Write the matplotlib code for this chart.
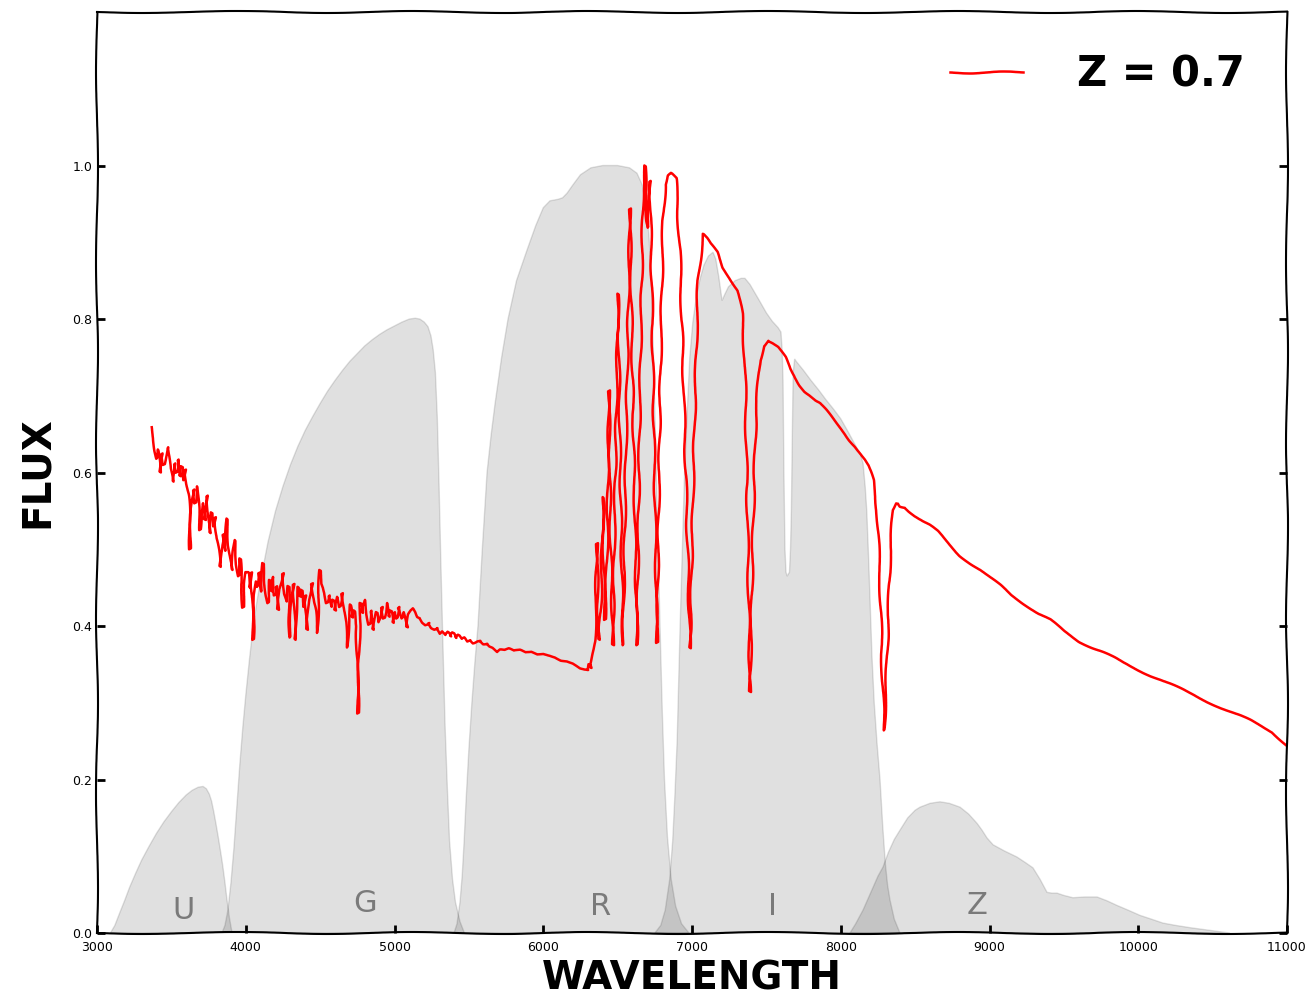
import numpy as np
import matplotlib.pyplot as plt

# SDSS filter curves (wavelength in Angstrom, scaled response)
u_wave = [3090, 3120, 3150, 3185, 3220, 3260, 3300, 3350, 3400, 3450, 3500, 3550, 3600, 3640,
          3680, 3713, 3735, 3755, 3770, 3785, 3800, 3815, 3830, 3845, 3860, 3874, 3890, 3908]
u_resp = [0.0, 0.01, 0.025, 0.042, 0.06, 0.078, 0.095, 0.113, 0.13, 0.145, 0.158, 0.17, 0.18, 0.186,
          0.19, 0.191, 0.188, 0.181, 0.172, 0.158, 0.142, 0.125, 0.107, 0.088, 0.066, 0.043, 0.02, 0.0]

g_wave = [3840, 3860, 3880, 3900, 3920, 3940, 3960, 3980, 4000, 4025, 4050, 4075, 4100, 4150,
          4200, 4250, 4300, 4350, 4400, 4450, 4500, 4550, 4600, 4650, 4700, 4750, 4800, 4850,
          4900, 4950, 5000, 5050, 5100, 5140, 5170, 5200, 5225, 5245, 5260, 5275, 5288, 5300,
          5312, 5325, 5340, 5355, 5370, 5390, 5410, 5440, 5470]
g_resp = [0.0, 0.01, 0.03, 0.065, 0.11, 0.165, 0.22, 0.268, 0.31, 0.357, 0.40, 0.432, 0.46, 0.51,
          0.55, 0.582, 0.61, 0.634, 0.655, 0.673, 0.69, 0.706, 0.72, 0.733, 0.745, 0.755, 0.765, 0.773,
          0.78, 0.786, 0.791, 0.796, 0.80, 0.801, 0.80, 0.796, 0.79, 0.778, 0.76, 0.73, 0.67, 0.58,
          0.48, 0.38, 0.27, 0.19, 0.12, 0.07, 0.04, 0.015, 0.0]

r_wave = [5400, 5420, 5440, 5455, 5468, 5481, 5500, 5520, 5540, 5561, 5590, 5622, 5650, 5676,
          5720, 5763, 5820, 5891, 5950, 6000, 6045, 6100, 6130, 6160, 6200, 6250, 6320, 6400,
          6500, 6580, 6630, 6665, 6690, 6710, 6725, 6740, 6755, 6770, 6785, 6800, 6815, 6835,
          6860, 6890, 6930, 6980]
r_resp = [0.0, 0.012, 0.04, 0.075, 0.12, 0.173, 0.24, 0.3, 0.352, 0.4, 0.5, 0.6, 0.65, 0.69,
          0.75, 0.8, 0.85, 0.89, 0.922, 0.945, 0.954, 0.956, 0.958, 0.964, 0.975, 0.988, 0.997, 1.0,
          1.0, 0.997, 0.99, 0.975, 0.95, 0.91, 0.86, 0.76, 0.64, 0.52, 0.4, 0.29, 0.2, 0.125,
          0.07, 0.035, 0.012, 0.0]

i_wave = [6750, 6790, 6820, 6850, 6870, 6885, 6900, 6920, 6935, 6950, 6968, 6985, 7005, 7030,
          7055, 7080, 7110, 7141, 7160, 7180, 7202, 7220, 7245, 7290, 7330, 7356, 7390, 7450,
          7500, 7540, 7578, 7598, 7606, 7612, 7618, 7625, 7632, 7640, 7648, 7655, 7662, 7668,
          7675, 7680, 7690, 7700, 7750, 7800, 7850, 7900, 7950, 8000, 8050, 8100, 8130, 8150,
          8165, 8175, 8187, 8197, 8210, 8225, 8244, 8264, 8282, 8300, 8315, 8331, 8360, 8398]
i_resp = [0.0, 0.01, 0.03, 0.07, 0.12, 0.18, 0.25, 0.4, 0.5, 0.6, 0.68, 0.75, 0.795, 0.83,
          0.853, 0.87, 0.882, 0.887, 0.878, 0.855, 0.824, 0.832, 0.842, 0.85, 0.853, 0.853, 0.845, 0.825,
          0.808, 0.797, 0.789, 0.783, 0.76, 0.72, 0.6, 0.5, 0.47, 0.465, 0.468, 0.47, 0.5, 0.55,
          0.66, 0.73, 0.748, 0.745, 0.733, 0.72, 0.708, 0.695, 0.683, 0.67, 0.653, 0.635, 0.625, 0.612,
          0.58, 0.55, 0.49, 0.434, 0.36, 0.3, 0.247, 0.2, 0.14, 0.09, 0.062, 0.043, 0.018, 0.0]

z_wave = [8062, 8100, 8150, 8200, 8250, 8284, 8320, 8360, 8398, 8450, 8500, 8533, 8600, 8667,
          8730, 8802, 8860, 8916, 8950, 8983, 9024, 9100, 9185, 9240, 9292, 9340, 9387, 9420,
          9454, 9500, 9561, 9640, 9723, 9790, 9857, 9930, 10012, 10090, 10166, 10250, 10348,
          10462, 10617]
z_resp = [0.0, 0.012, 0.03, 0.052, 0.074, 0.086, 0.105, 0.122, 0.134, 0.15, 0.16, 0.164, 0.169, 0.171,
          0.169, 0.164, 0.155, 0.143, 0.134, 0.124, 0.115, 0.107, 0.099, 0.092, 0.085, 0.07, 0.053, 0.052,
          0.052, 0.049, 0.046, 0.047, 0.047, 0.042, 0.036, 0.03, 0.023, 0.018, 0.013, 0.01, 0.007,
          0.004, 0.0]

filter_names = ['U', 'G', 'R', 'I', 'Z']
label_wave = [3578, 4802, 6388, 7538, 8916]
label_flux = [0.03, 0.039, 0.034, 0.034, 0.036]

# galaxy spectrum redshifted to z = 0.7
spec_wave = [
    3368, 3380, 3392, 3401, 3410, 3424, 3436, 3448, 3462, 3477, 3490, 3502, 3511, 3522, 3535,
    3545, 3558, 3570, 3580, 3592, 3605, 3618, 3625, 3632, 3639, 3650, 3660, 3672, 3682, 3692,
    3700, 3712, 3725, 3740, 3750, 3760, 3770, 3782, 3793, 3805, 3816, 3827, 3838, 3850, 3862,
    3874, 3886, 3898, 3908, 3918, 3928, 3940, 3952, 3962, 3972, 3982, 3992, 4004, 4015, 4026,
    4036, 4049, 4060, 4070, 4076, 4090, 4104, 4116, 4128, 4140, 4150, 4162, 4172, 4183, 4195,
    4206, 4217, 4228, 4240, 4250, 4262, 4275, 4287, 4297, 4310, 4322, 4331, 4340, 4351, 4364,
    4375, 4388, 4400, 4412, 4425, 4436, 4445, 4458, 4468, 4479, 4490, 4499, 4510, 4522, 4533,
    4545, 4560, 4575, 4587, 4600, 4615, 4632, 4647, 4660, 4670, 4681, 4692, 4703, 4714, 4730,
    4745, 4755, 4764, 4772, 4782, 4790, 4802, 4815, 4830, 4842, 4855, 4868, 4880, 4892, 4903,
    4915, 4928, 4940, 4950, 4962, 4975, 4990, 5002, 5015, 5026, 5037, 5050, 5062, 5074, 5084,
    5095, 5110, 5124, 5140, 5155, 5171, 5190, 5210, 5230, 5250, 5270, 5286, 5305, 5320, 5340,
    5360, 5375, 5393, 5410, 5430, 5450, 5470, 5490, 5508, 5530, 5555, 5575, 5600, 5622, 5640,
    5660, 5689, 5710, 5740, 5770, 5800, 5844, 5880, 5920, 5960, 6000, 6045, 6080, 6120, 6160,
    6200, 6247, 6275, 6301, 6310, 6318, 6328, 6348, 6361, 6368, 6375, 6388, 6402, 6408, 6415,
    6429, 6442, 6452, 6462, 6469, 6482, 6503, 6510, 6516, 6536, 6556, 6583, 6603, 6630, 6650,
    6671, 6684, 6697, 6704, 6718, 6731, 6765, 6785, 6805, 6820, 6839, 6860, 6892, 6919, 6946,
    6987, 7013, 7040, 7074, 7100, 7121, 7168, 7208, 7255, 7309, 7336, 7356, 7372, 7390, 7410,
    7430, 7457, 7480, 7511, 7545, 7578, 7625, 7659, 7700, 7726, 7760, 7793, 7830, 7861, 7900,
    7928, 7960, 7995, 8030, 8062, 8100, 8129, 8160, 8183, 8200, 8217, 8244, 8264, 8277, 8291,
    8300, 8311, 8331, 8351, 8370, 8385, 8400, 8432, 8460, 8499, 8550, 8600, 8650, 8700, 8750,
    8802, 8870, 8936, 9000, 9071, 9150, 9250, 9330, 9407, 9500, 9600, 9743, 9900, 10079, 10250,
    10415, 10600, 10751, 10900, 11000]
spec_flux = [
    0.659, 0.645, 0.628, 0.618, 0.630, 0.600, 0.625, 0.610, 0.622, 0.633, 0.605, 0.596, 0.588, 0.612, 0.600,
    0.617, 0.595, 0.608, 0.590, 0.604, 0.585, 0.570, 0.500, 0.545, 0.564, 0.578, 0.560, 0.582, 0.555, 0.525,
    0.548, 0.560, 0.538, 0.570, 0.545, 0.521, 0.548, 0.530, 0.542, 0.515, 0.500, 0.477, 0.505, 0.520, 0.498,
    0.540, 0.505, 0.490, 0.473, 0.498, 0.512, 0.480, 0.465, 0.488, 0.450, 0.424, 0.455, 0.470, 0.469, 0.450,
    0.470, 0.382, 0.440, 0.458, 0.451, 0.470, 0.445, 0.482, 0.455, 0.440, 0.430, 0.460, 0.445, 0.464, 0.440,
    0.452, 0.421, 0.448, 0.458, 0.469, 0.442, 0.432, 0.452, 0.385, 0.440, 0.455, 0.382, 0.430, 0.451, 0.438,
    0.447, 0.425, 0.440, 0.395, 0.435, 0.448, 0.456, 0.430, 0.420, 0.391, 0.440, 0.473, 0.455, 0.450, 0.443,
    0.430, 0.440, 0.425, 0.434, 0.420, 0.438, 0.425, 0.443, 0.420, 0.405, 0.372, 0.410, 0.428, 0.411, 0.420,
    0.400, 0.286, 0.390, 0.430, 0.417, 0.425, 0.434, 0.415, 0.402, 0.420, 0.395, 0.405, 0.418, 0.405, 0.411,
    0.425, 0.410, 0.418, 0.430, 0.412, 0.420, 0.404, 0.418, 0.410, 0.425, 0.421, 0.410, 0.418, 0.405, 0.398,
    0.415, 0.420, 0.423, 0.418, 0.412, 0.411, 0.405, 0.402, 0.405, 0.398, 0.396, 0.398, 0.390, 0.393, 0.388,
    0.392, 0.386, 0.391, 0.384, 0.388, 0.383, 0.385, 0.380, 0.382, 0.378, 0.381, 0.382, 0.377, 0.378, 0.374,
    0.372, 0.366, 0.369, 0.368, 0.370, 0.367, 0.368, 0.365, 0.366, 0.363, 0.364, 0.362, 0.360, 0.356, 0.355,
    0.352, 0.345, 0.343, 0.342, 0.350, 0.345, 0.355, 0.382, 0.508, 0.420, 0.382, 0.434, 0.568, 0.450, 0.408,
    0.486, 0.707, 0.520, 0.434, 0.375, 0.564, 0.833, 0.740, 0.629, 0.375, 0.629, 0.944, 0.694, 0.375, 0.694,
    0.967, 1.000, 0.928, 0.919, 0.980, 0.824, 0.378, 0.694, 0.928, 0.975, 0.987, 0.990, 0.983, 0.889, 0.694,
    0.371, 0.629, 0.850, 0.911, 0.905, 0.898, 0.887, 0.867, 0.854, 0.837, 0.807, 0.746, 0.550, 0.314, 0.520,
    0.680, 0.746, 0.765, 0.772, 0.768, 0.763, 0.750, 0.735, 0.722, 0.714, 0.706, 0.701, 0.694, 0.690, 0.681,
    0.674, 0.666, 0.658, 0.650, 0.642, 0.634, 0.626, 0.617, 0.609, 0.600, 0.590, 0.551, 0.460, 0.355, 0.264,
    0.300, 0.355, 0.486, 0.551, 0.560, 0.560, 0.556, 0.555, 0.550, 0.544, 0.537, 0.531, 0.523, 0.512, 0.502,
    0.492, 0.482, 0.473, 0.463, 0.453, 0.440, 0.427, 0.416, 0.408, 0.393, 0.380, 0.368, 0.352, 0.336, 0.321,
    0.306, 0.290, 0.277, 0.262, 0.245]

plt.rcParams['font.family'] = 'DejaVu Sans'

fig = plt.figure(figsize=(13.13, 10.01), dpi=100)
ax = fig.add_axes([0.0739, 0.0679, 0.9063, 0.9201])

# filter curves, overlapping regions come out darker
for wave, resp in [(u_wave, u_resp), (g_wave, g_resp), (r_wave, r_resp),
                   (i_wave, i_resp), (z_wave, z_resp)]:
    ax.fill(wave, resp, fc='k', ec='k', alpha=0.12, lw=1)

for name, x, y in zip(filter_names, label_wave, label_flux):
    ax.text(x, y, name, ha='center', va='center', fontsize=22, color='#7a7a7a')

line, = ax.plot(spec_wave, spec_flux, color='red', lw=1.8, label='Z = 0.7')
line.set_sketch_params(scale=1, length=80, randomness=2)

ax.set_xlim(3000, 11000)
ax.set_ylim(0, 1.2)
ax.set_xticks(np.arange(3000, 11001, 1000))
ax.set_yticks([0.0, 0.2, 0.4, 0.6, 0.8, 1.0])
ax.tick_params(direction='in', length=6, width=2, labelsize=9, right=True, top=False)
ax.tick_params(axis='x', pad=6)
for sp in ax.spines.values():
    sp.set_linewidth(1.5)
    sp.set_sketch_params(scale=1, length=200, randomness=2)

ax.set_xlabel('WAVELENGTH', fontsize=28, fontweight='bold', labelpad=4)
ax.set_ylabel('FLUX', fontsize=28, fontweight='bold', labelpad=12)

ax.legend(loc='upper right', frameon=False, prop={'size': 30, 'weight': 'bold'},
          handlelength=1.75, handletextpad=1.3, borderaxespad=0.6)

fig.savefig('out.png', dpi=100)
